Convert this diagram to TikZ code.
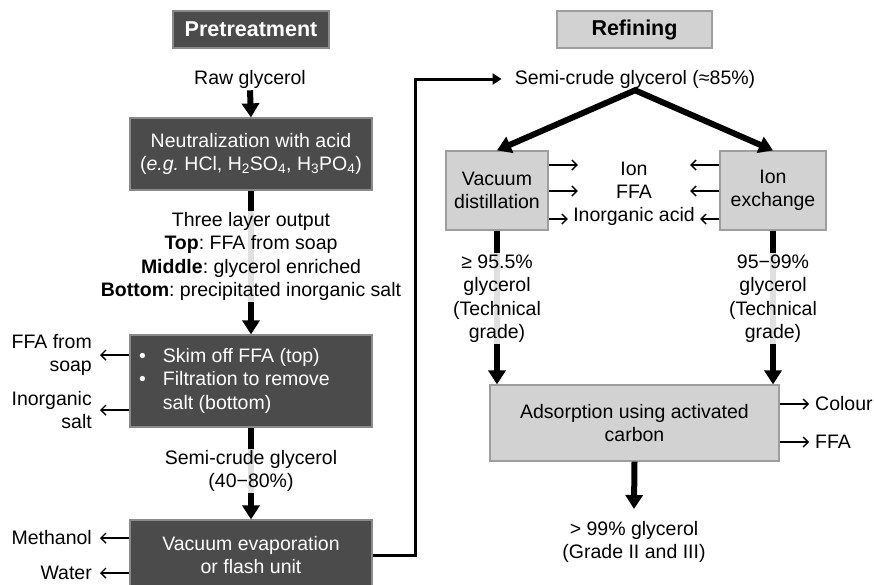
\documentclass[tikz,border=0pt]{standalone}
\usepackage{fontspec}
\setmainfont{Liberation Sans}
\usetikzlibrary{arrows.meta,calc}
\definecolor{darkfill}{HTML}{4B4B4B}
\definecolor{darkedge}{HTML}{8A8A8A}
\definecolor{lightfill}{HTML}{D1D2D1}
\definecolor{lightedge}{HTML}{9E9E9E}
\frenchspacing
\begin{document}
\begin{tikzpicture}[x=1pt,y=-1pt,
  every node/.style={font=\fontsize{19.5}{23.5}\selectfont},
  titlefont/.style={font=\fontsize{21.5}{25}\selectfont\bfseries},
  darkbox/.style={draw=darkedge, line width=1.2pt, fill=darkfill, text=white, align=center, inner sep=0pt},
  lightbox/.style={draw=lightedge, line width=1.2pt, fill=lightfill, align=center, inner sep=0pt},
  plain/.style={align=center, inner sep=2pt},
  lbl/.style={align=center, inner sep=1pt, fill=white, fill opacity=0.88, text opacity=1},
  outl/.style={align=right, anchor=east, inner ysep=2pt, inner xsep=8pt},
  outr/.style={align=left, anchor=west, inner ysep=2pt, inner xsep=6pt},
  flow/.style={line width=6pt, -{Triangle[width=17pt,length=14pt]}},
  side/.style={line width=1.4pt, -{Straight Barb[length=5pt,width=10pt]}},
  link/.style={line width=3pt, -{Triangle[width=11pt,length=9pt]}},
]
\useasboundingbox (0,0) rectangle (874,584);

% ---------- Pretreatment column ----------
\node[darkbox, titlefont, text=white, minimum width=156pt, minimum height=37pt] (pretitle) at (251,29.5) {Pretreatment};
\node[plain] (raw) at (250,79) {Raw glycerol};
\node[darkbox, minimum width=242pt, minimum height=72pt] (neut) at (251,154)
  {Neutralization with acid\\(\textit{e.g.}\ HCl, H\textsubscript{2}SO\textsubscript{4}, H\textsubscript{3}PO\textsubscript{4})};
\node[darkbox, minimum width=242pt, minimum height=92pt] (skim) at (251,381)
  {\begin{tabular}{@{}l@{\hspace{17pt}}l@{\hspace{33pt}}}
   \textbullet & Skim off FFA (top)\\
   \textbullet & Filtration to remove\\
               & salt (bottom)
   \end{tabular}};
\node[darkbox, minimum width=242pt, minimum height=70pt] (evap) at (251,555)
  {Vacuum evaporation\\or flash unit};

\draw[flow] (raw.south) -- (neut.north);
\draw[flow] (neut.south) -- (skim.north);
\draw[flow] (skim.south) -- (evap.north);

\node[lbl] (layers) at (251,256.5)
  {Three layer output\\\textbf{Top}: FFA from soap\\\textbf{Middle}: glycerol enriched\\\textbf{Bottom}: precipitated inorganic salt};
\node[lbl] (semi) at (251,471) {Semi-crude glycerol\\(40−80\%)};

% side streams leaving the pretreatment steps
\node[outl] (ffasoap) at (100,355) {FFA from\\soap};
\node[outl] (salt) at (100,410) {Inorganic\\salt};
\node[outl] (meth) at (100,538) {Methanol};
\node[outl] (water) at (100,573) {Water};
\draw[side] (skim.west |- ffasoap.east) -- (ffasoap.east);
\draw[side] (skim.west |- salt.east) -- (salt.east);
\draw[side] (evap.west |- meth.east) -- (meth.east);
\draw[side] (evap.west |- water.east) -- (water.east);

% ---------- Refining column ----------
\node[lightbox, titlefont, minimum width=155pt, minimum height=37pt] (reftitle) at (634.5,29.5) {Refining};
\node[plain, inner xsep=13pt] (semi85) at (635,79) {Semi-crude glycerol (≈85\%)};

\coordinate (bend) at (415,79);
\draw[link] (evap.east) -| (bend) -- (semi85.west);

\node[lightbox, minimum width=102pt, minimum height=79pt] (vdist) at (497,190.5) {Vacuum\\distillation};
\node[lightbox, minimum width=106pt, minimum height=79pt] (iex) at (773,190.5) {Ion\\exchange};

\draw[line width=6pt, line join=miter,
      {Triangle[width=17pt,length=14pt]}-{Triangle[width=17pt,length=14pt]}]
  (vdist.north) -- (semi85.south) -- (iex.north);

\node[inner sep=0pt, minimum width=112pt] (ion) at (634,169) {Ion};
\node[inner sep=0pt, minimum width=112pt] (ffa) at (634,192) {FFA};
\node[inner sep=0pt, minimum width=132pt] (inacid) at (634,216) {Inorganic acid};

\draw[side] ($(vdist.east |- ion.west)+(0,-4)$) -- ($(ion.west)+(0,-4)$);
\draw[side] ($(vdist.east |- ffa.west)+(0,-1)$) -- ($(ffa.west)+(0,-1)$);
\draw[side] ($(vdist.east |- inacid.west)+(0,3)$) -- ($(inacid.west)+(0,3)$);
\draw[side] ($(iex.west |- ion.east)+(0,-4)$) -- ($(ion.east)+(0,-4)$);
\draw[side] ($(iex.west |- ffa.east)+(0,-1)$) -- ($(ffa.east)+(0,-1)$);
\draw[side] ($(iex.west |- inacid.east)+(0,3)$) -- ($(inacid.east)+(0,3)$);

\node[lightbox, minimum width=289pt, minimum height=76pt] (ads) at (634.5,423) {Adsorption using activated\\carbon};

\draw[flow] (vdist.south) -- (vdist.south |- ads.north);
\draw[flow] (iex.south) -- (iex.south |- ads.north);

\node[lbl] (tg1) at (497,298.5) {≥ 95.5\%\\glycerol\\(Technical\\grade)};
\node[lbl] (tg2) at (773,298.5) {95−99\%\\glycerol\\(Technical\\grade)};

\node[outr] (colour) at (809,404) {Colour};
\node[outr] (ffa2) at (809,442) {FFA};
\draw[side] (ads.east |- colour.west) -- (colour.west);
\draw[side] (ads.east |- ffa2.west) -- (ffa2.west);

\node[plain, inner ysep=12pt] (prod) at (634,542) {> 99\% glycerol\\(Grade II and III)};
\draw[flow] (ads.south) -- (prod.north);
\end{tikzpicture}
\end{document}
